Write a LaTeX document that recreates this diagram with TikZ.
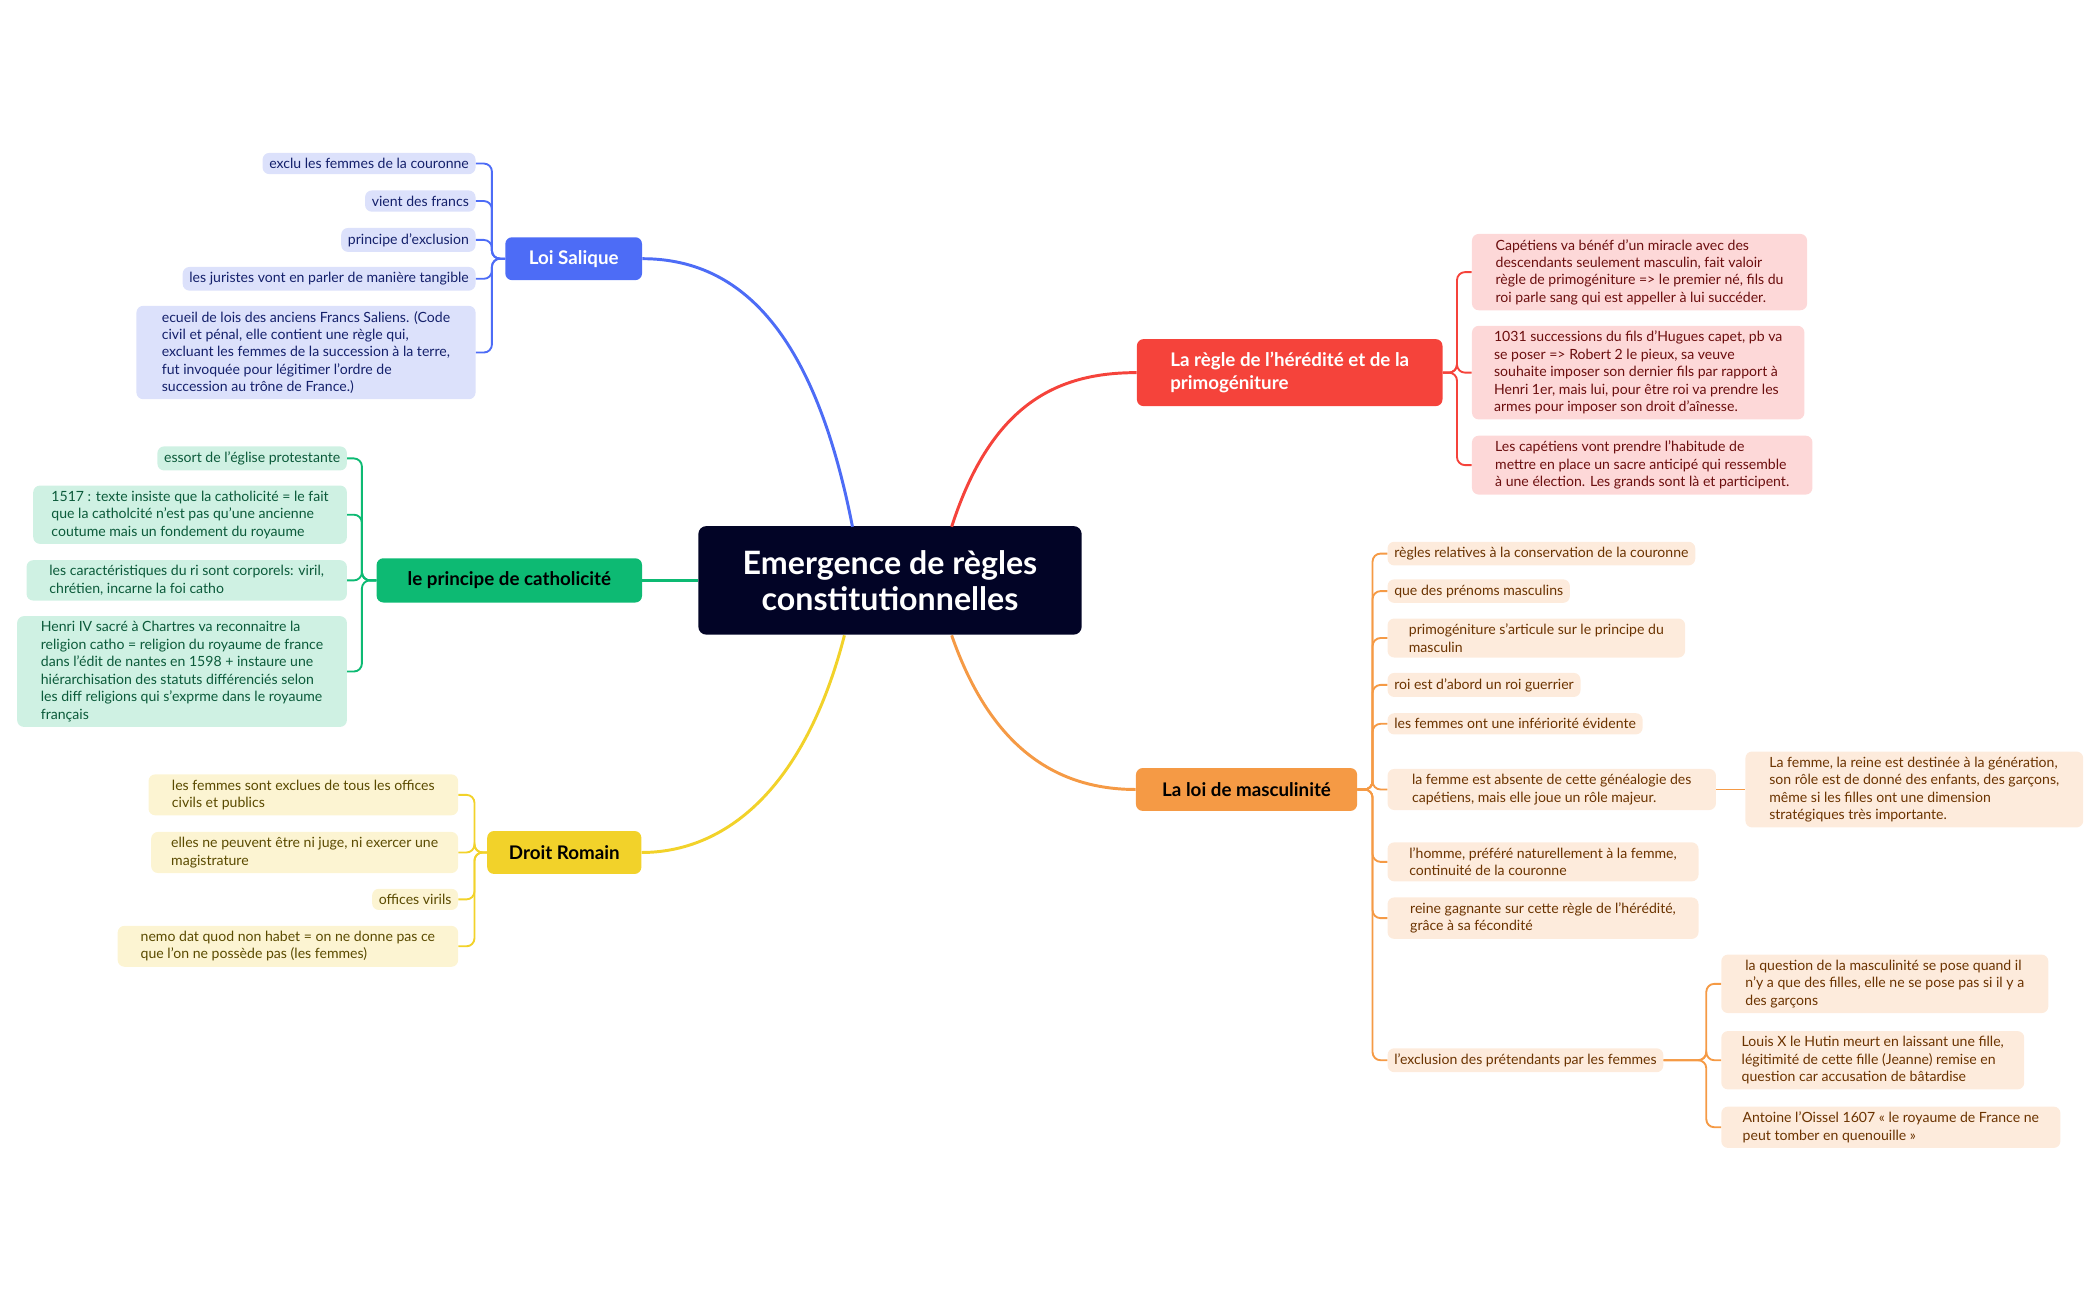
\documentclass[tikz,border=0pt]{standalone}
\usepackage{fontspec}
\setmainfont{Lato}
\definecolor{cnavy}{HTML}{020426}
\definecolor{cblue}{HTML}{4D6CF6}
\definecolor{lblue}{HTML}{DCE1FB}
\definecolor{tblue}{HTML}{14206B}
\definecolor{cgreen}{HTML}{0DBA73}
\definecolor{lgreen}{HTML}{CFF1E3}
\definecolor{tgreen}{HTML}{0B5A3A}
\definecolor{cyel}{HTML}{F2D22A}
\definecolor{lyel}{HTML}{FCF4D2}
\definecolor{tyel}{HTML}{5A4A00}
\definecolor{cred}{HTML}{F5433B}
\definecolor{lred}{HTML}{FDD8D8}
\definecolor{tred}{HTML}{6B0E0E}
\definecolor{corg}{HTML}{F59A45}
\definecolor{lorg}{HTML}{FDEBDC}
\definecolor{torg}{HTML}{6B3300}
\tikzset{
 leaf/.style={rounded corners=5pt,inner xsep=5pt,inner ysep=4pt,align=left,font=\fontsize{10.5}{13}\selectfont},
 mainb/.style={rounded corners=5pt,inner xsep=12pt,inner ysep=7pt,align=left,font=\fontsize{14}{17}\selectfont\bfseries},
 bl/.style={leaf,fill=lblue,text=tblue},
 gl/.style={leaf,fill=lgreen,text=tgreen},
 yl/.style={leaf,fill=lyel,text=tyel},
 rl/.style={leaf,fill=lred,text=tred},
 ol/.style={leaf,fill=lorg,text=torg},
 con/.style={line width=1.4pt,rounded corners=6pt},
 mcon/.style={line width=2.2pt},
}
\begin{document}
\begin{tikzpicture}[x=1pt,y=-1pt]
\useasboundingbox (0,0) rectangle (1566,970);
% central
\node[fill=cnavy,text=white,rounded corners=6pt,minimum width=286pt,minimum height=81pt,align=center,font=\fontsize{24}{27}\selectfont\bfseries] (c) at (664,433) {Emergence de règles\\constitutionnelles};
% main branches
\node[mainb,fill=cblue,text=white,minimum width=102pt,minimum height=32pt,align=center] (ls) at (428,193) {Loi Salique};
\node[mainb,fill=cgreen,text=black,minimum width=198pt,minimum height=33pt,align=center] (pc) at (380,433) {le principe de catholicité};
\node[mainb,fill=cyel,text=black,minimum width=115pt,minimum height=32pt,align=center] (dr) at (421,636) {Droit Romain};
\node[mainb,fill=cred,text=white,minimum width=228pt,minimum height=50pt,anchor=west] (rh) at (848,278) {La règle de l'hérédité et de la\\primogéniture};
\node[mainb,fill=corg,text=black,minimum width=165pt,minimum height=32pt,align=center] (lm) at (930,589) {La loi de masculinité};
\draw[mcon,cblue] (636,393) .. controls (610,260) and (560,193) .. (ls.east);
\draw[mcon,cred] (710,393) .. controls (740,300) and (790,278) .. (rh.west);
\draw[mcon,cyel] (630,474) .. controls (600,590) and (540,636) .. (dr.east);
\draw[mcon,corg] (710,474) .. controls (740,560) and (790,589) .. (lm.west);
\draw[mcon,cgreen] (pc.east) -- (c.west);
% blue leaves
\node[bl,anchor=east] (b1) at (355,122) {exclu les femmes de la couronne};
\node[bl,anchor=east] (b2) at (355,150) {vient des francs};
\node[bl,anchor=east] (b3) at (355,179) {principe d'exclusion};
\node[bl,anchor=east] (b4) at (355,208) {les juristes vont en parler de manière tangible};
\node[bl,anchor=east,minimum width=253pt] (b5) at (355,263) {ecueil de lois des anciens Francs Saliens. (Code\\civil et pénal, elle contient une règle qui,\\excluant les femmes de la succession à la terre,\\fut invoquée pour légitimer l'ordre de\\succession au trône de France.)};
\foreach \n in {b1,b2,b3,b4,b5} \draw[con,cblue] (ls.west) -- (367,193) |- (\n.east);
% green leaves
\node[gl,anchor=east] (g1) at (259,342) {essort de l'église protestante};
\node[gl,anchor=east,minimum width=234pt] (g2) at (259,384) {1517 : texte insiste que la catholicité = le fait\\que la catholcité n'est pas qu'une ancienne\\coutume mais un fondement du royaume};
\node[gl,anchor=east,minimum width=239pt] (g3) at (259,433) {les caractéristiques du ri sont corporels: viril,\\chrétien, incarne la foi catho};
\node[gl,anchor=east,minimum width=246pt] (g4) at (259,501) {Henri IV sacré à Chartres va reconnaitre la\\religion catho = religion du royaume de france\\dans l'édit de nantes en 1598 + instaure une\\hiérarchisation des statuts différenciés selon\\les diff religions qui s'exprme dans le royaume\\français};
\foreach \n in {g1,g2,g3,g4} \draw[con,cgreen] (pc.west) -- (270,433) |- (\n.east);
% yellow leaves
\node[yl,anchor=east,minimum width=231pt] (y1) at (342,593) {les femmes sont exclues de tous les offices\\civils et publics};
\node[yl,anchor=east,minimum width=229pt] (y2) at (342,636) {elles ne peuvent être ni juge, ni exercer une\\magistrature};
\node[yl,anchor=east] (y3) at (342,671) {offices virils};
\node[yl,anchor=east,minimum width=254pt] (y4) at (342,706) {nemo dat quod non habet = on ne donne pas ce\\que l'on ne possède pas (les femmes)};
\foreach \n in {y1,y2,y3,y4} \draw[con,cyel] (dr.west) -- (354,636) |- (\n.east);
% red leaves
\node[rl,anchor=west,minimum width=250pt] (r1) at (1098,203) {Capétiens va bénéf d'un miracle avec des\\descendants seulement masculin, fait valoir\\règle de primogéniture => le premier né, fils du\\roi parle sang qui est appeller à lui succéder.};
\node[rl,anchor=west,minimum width=248pt] (r2) at (1098,278) {1031 successions du fils d'Hugues capet, pb va\\se poser => Robert 2 le pieux, sa veuve\\souhaite imposer son dernier fils par rapport à\\Henri 1er, mais lui, pour être roi va prendre les\\armes pour imposer son droit d'aînesse.};
\node[rl,anchor=west,minimum width=254pt] (r3) at (1098,347) {Les capétiens vont prendre l'habitude de\\mettre en place un sacre anticipé qui ressemble\\à une élection. Les grands sont là et participent.};
\foreach \n in {r1,r2,r3} \draw[con,cred] (rh.east) -- (1087,278) |- (\n.west);
% orange leaves
\node[ol,anchor=west] (o1) at (1035,413) {règles relatives à la conservation de la couronne};
\node[ol,anchor=west] (o2) at (1035,441) {que des prénoms masculins};
\node[ol,anchor=west,minimum width=222pt] (o3) at (1035,476) {primogéniture s'articule sur le principe du\\masculin};
\node[ol,anchor=west] (o4) at (1035,511) {roi est d'abord un roi guerrier};
\node[ol,anchor=west] (o5) at (1035,540) {les femmes ont une infériorité évidente};
\node[ol,anchor=west,minimum width=245pt] (o6) at (1035,589) {la femme est absente de cette généalogie des\\capétiens, mais elle joue un rôle majeur.};
\node[ol,anchor=west,minimum width=232pt] (o7) at (1035,643) {l'homme, préféré naturellement à la femme,\\continuité de la couronne};
\node[ol,anchor=west,minimum width=232pt] (o8) at (1035,685) {reine gagnante sur cette règle de l'hérédité,\\grâce à sa fécondité};
\node[ol,anchor=west] (o9) at (1035,791) {l'exclusion des prétendants par les femmes};
\foreach \n in {o1,o2,o3,o4,o5,o6,o7,o8,o9} \draw[con,corg] (lm.east) -- (1024,589) |- (\n.west);
\node[ol,anchor=west,minimum width=252pt] (o6a) at (1302,589) {La femme, la reine est destinée à la génération,\\son rôle est de donné des enfants, des garçons,\\même si les filles ont une dimension\\stratégiques très importante.};
\draw[con,corg] (o6.east) -- (o6a.west);
\node[ol,anchor=west,minimum width=244pt] (p1) at (1284,734) {la question de la masculinité se pose quand il\\n'y a que des filles, elle ne se pose pas si il y a\\des garçons};
\node[ol,anchor=west,minimum width=226pt] (p2) at (1284,791) {Louis X le Hutin meurt en laissant une fille,\\légitimité de cette fille (Jeanne) remise en\\question car accusation de bâtardise};
\node[ol,anchor=west,minimum width=253pt] (p3) at (1284,841) {Antoine l'Oissel 1607 « le royaume de France ne\\peut tomber en quenouille »};
\foreach \n in {p1,p2,p3} \draw[con,corg] (o9.east) -- (1273,791) |- (\n.west);
\end{tikzpicture}
\end{document}
